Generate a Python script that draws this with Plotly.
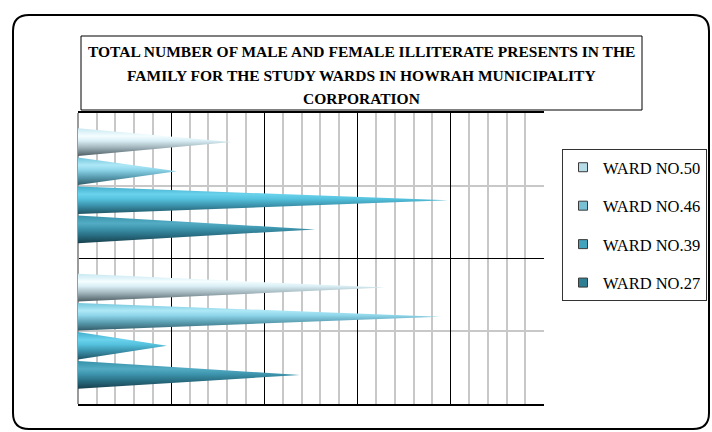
import plotly.graph_objects as go

# ---------------- data ----------------
categories = ["MALE", "FEMALE"]          # bottom, top
wards = ["WARD NO.50", "WARD NO.46", "WARD NO.39", "WARD NO.27"]
ward50 = [65.9, 33.0]
ward46 = [77.7, 21.2]
ward39 = [19.1, 79.4]
ward27 = [47.6, 50.9]
series = [ward50, ward46, ward39, ward27]

title_lines = [
    "TOTAL NUMBER OF MALE AND FEMALE ILLITERATE PRESENTS IN THE",
    "FAMILY FOR THE STUDY WARDS IN HOWRAH MUNICIPALITY",
    "CORPORATION",
]

# ---------------- styles ----------------
legend_colors = ["#b6dce8", "#79c0d4", "#41a2bd", "#2f7f94"]
gradients = [
    [[0, "#4f5f66"], [0.3, "#a0b3ba"], [0.55, "#d9eff5"], [0.72, "#f4fdff"], [1, "#c8e8f1"]],
    [[0, "#325c69"], [0.3, "#5b9fb3"], [0.55, "#8fd6ea"], [0.72, "#aee8f7"], [1, "#73c5dc"]],
    [[0, "#1f5263"], [0.3, "#3a90a9"], [0.55, "#55c2de"], [0.72, "#6ad2ec"], [1, "#43adcb"]],
    [[0, "#173f4c"], [0.3, "#2a7186"], [0.55, "#3f98b0"], [0.72, "#53acc4"], [1, "#3591a9"]],
]
half_h = 0.095
group_step = 0.2

PL, PR, PT, PB = 78, 544, 113, 404   # plot area in pixels
W, H = 712, 432


def px(x):
    return (x - PL) / (PR - PL)


def py(y):
    return (PB - y) / (PB - PT)


fig = go.Figure()

# legend entries
for i, name in enumerate(wards):
    fig.add_trace(go.Scatter(
        x=[None], y=[None], mode="markers", name=name, legendgroup=name,
        marker=dict(symbol="square", size=9, color=legend_colors[i],
                    line=dict(color="#3a3a3a", width=1)),
        showlegend=True, hoverinfo="skip",
    ))

# cones
for i, name in enumerate(wards):
    offset = (1.5 - i) * group_step
    for ci, cat in enumerate(categories):
        v = series[i][ci]
        c = ci + offset
        fig.add_trace(go.Scatter(
            x=[0, v, 0, 0], y=[c - half_h, c, c + half_h, c - half_h],
            mode="lines", fill="toself", line=dict(width=0, color="rgba(0,0,0,0)"),
            fillgradient=dict(type="vertical", colorscale=gradients[i]),
            name=name, legendgroup=name, showlegend=False,
            hoveron="fills", text=f"{name} - {cat}: {v}", hoverinfo="text",
        ))

# outer rounded border
L, R, T, B, r = 13, 709, 15, 429, 16
path = (f"M {px(L)},{py(T + r)} Q {px(L)},{py(T)} {px(L + r)},{py(T)} "
        f"L {px(R - r)},{py(T)} Q {px(R)},{py(T)} {px(R)},{py(T + r)} "
        f"L {px(R)},{py(B - r)} Q {px(R)},{py(B)} {px(R - r)},{py(B)} "
        f"L {px(L + r)},{py(B)} Q {px(L)},{py(B)} {px(L)},{py(B - r)} Z")
shapes = [
    dict(type="path", xref="paper", yref="paper", path=path,
         line=dict(color="black", width=2), layer="below"),
    dict(type="rect", xref="paper", yref="paper",
         x0=px(81), x1=px(642), y0=py(110), y1=py(36),
         line=dict(color="black", width=1), fillcolor="white"),
]

annotations = []
for k, (line, yc) in enumerate(zip(title_lines, [51.5, 75, 99])):
    annotations.append(dict(
        text=f"<b>{line}</b>", xref="paper", yref="paper",
        x=px(361.5), y=py(yc), xanchor="center", yanchor="middle",
        showarrow=False, font=dict(family="Liberation Serif", size=15.5, color="black"),
    ))

fig.update_layout(
    width=W, height=H,
    margin=dict(l=PL, r=W - PR, t=PT, b=H - PB, pad=0, autoexpand=False),
    paper_bgcolor="white", plot_bgcolor="white",
    showlegend=True,
    legend=dict(
        x=px(562), y=py(149), xanchor="left", yanchor="top",
        bordercolor="#333333", borderwidth=1, bgcolor="white",
        font=dict(family="Liberation Serif", size=16.5, color="black"),
        itemwidth=30, tracegroupgap=14, traceorder="grouped",
    ),
    shapes=shapes,
    annotations=annotations,
    xaxis=dict(
        range=[0, 100], tick0=0, dtick=20, showgrid=True, gridcolor="black", gridwidth=1,
        minor=dict(dtick=4, showgrid=True, gridcolor="#c8c8c8", gridwidth=1.5),
        zeroline=True, zerolinecolor="#9a9a9a", zerolinewidth=2,
        showline=True, mirror=True, linecolor="black", linewidth=1.5,
        showticklabels=False, ticks="", fixedrange=True,
    ),
    yaxis=dict(
        range=[-0.5, 1.5], tick0=-0.5, dtick=1, showgrid=True, gridcolor="black", gridwidth=1,
        minor=dict(dtick=0.5, showgrid=True, gridcolor="#c8c8c8", gridwidth=1.5),
        zeroline=False, showline=False,
        showticklabels=False, ticks="", fixedrange=True,
    ),
)

fig.write_html("out.html")
